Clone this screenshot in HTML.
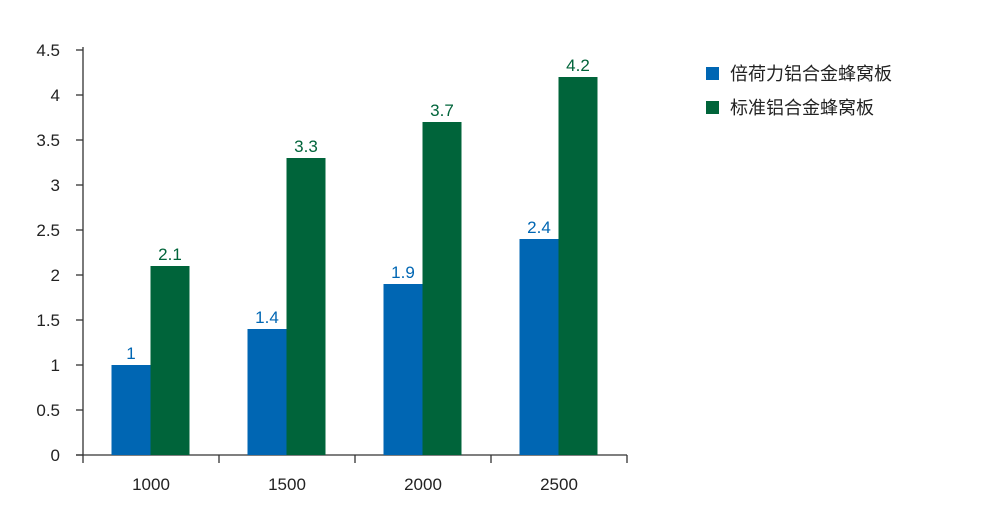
<!DOCTYPE html>
<html><head><meta charset="utf-8"><style>
body{margin:0;background:#fff;}
svg text{font-family:"Liberation Sans","Noto Sans CJK SC",sans-serif;}
</style></head><body>
<svg id="chart" width="1000" height="522" xmlns="http://www.w3.org/2000/svg">
<g id="axes"></g><g id="bars"></g>
<g>
<rect x="706" y="67" width="13" height="13" fill="#0066b3"/>
<text x="730" y="80" font-size="18" fill="#222">倍荷力铝合金蜂窝板</text>
<rect x="706" y="101" width="13" height="13" fill="#00643a"/>
<text x="730" y="114" font-size="18" fill="#222">标准铝合金蜂窝板</text>
</g>
</svg>
<script>
const categories=["1000","1500","2000","2500"];
const seriesBlue=[1,1.4,1.9,2.4];
const seriesGreen=[2.1,3.3,3.7,4.2];
const yTicks=[0,0.5,1,1.5,2,2.5,3,3.5,4,4.5];
const NS="http://www.w3.org/2000/svg";
const x0=83,x1=627,y0=455,yTop=50,yMax=4.5;
const band=(x1-x0)/categories.length;
const yS=v=>y0-(v/yMax)*(y0-yTop);
function mk(t,a,p){const e=document.createElementNS(NS,t);for(const k in a)e.setAttribute(k,a[k]);p.appendChild(e);return e;}
const ax=document.getElementById('axes'),bars=document.getElementById('bars');
let l=mk('line',{x1:x0,y1:yTop-3,x2:x0,y2:y0,stroke:'#333','stroke-width':1.3},ax);


l=mk('line',{x1:x0-7,y1:y0,x2:x1,y2:y0,stroke:'#333','stroke-width':1.3},ax);


yTicks.forEach(v=>{const y=yS(v);
 const t=mk('line',{x1:x0-7,y1:y,x2:x0,y2:y,stroke:'#333','stroke-width':1.3},ax);
 
 
 const tx=mk('text',{x:60,y:y+6,'font-size':17,fill:'#222','text-anchor':'end'},ax);tx.textContent=String(v);
 
 
});
for(let i=0;i<=categories.length;i++){const x=x0+i*band;
 const t=mk('line',{x1:x,y1:y0,x2:x,y2:y0+8,stroke:'#333','stroke-width':1.3},ax);
 
 }
categories.forEach((c,i)=>{const bx=x0+i*band;
 const tx=mk('text',{x:bx+band/2,y:490,'font-size':17,fill:'#222','text-anchor':'middle'},ax);tx.textContent=c;
 
 
 [[seriesBlue,'#0066b3',28.5],[seriesGreen,'#00643a',67.5]].forEach(([s,col,off],j)=>{
  const v=s[i],y=yS(v);
  const r=mk('rect',{x:bx+off,y:y,width:39,height:y0-y,fill:col},bars);
  
  
  const lb=mk('text',{x:bx+off+19.5,y:y-6,'font-size':17,fill:col,'text-anchor':'middle'},bars);lb.textContent=String(v);
  
  
 });
});
</script>
</body></html>
